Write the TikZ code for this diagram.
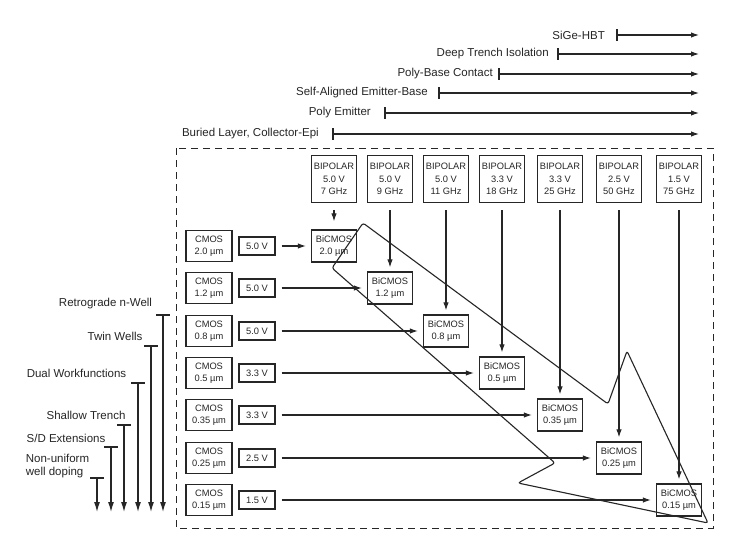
\documentclass[tikz,border=0pt]{standalone}
\usepackage{fontspec}
\setmainfont{Liberation Sans}
\usetikzlibrary{arrows.meta}
\definecolor{ink}{HTML}{262626}
\begin{document}
\begin{tikzpicture}[x=1pt,y=-1pt,
  lbl/.style={font=\fontsize{11.5}{12.5}\selectfont, inner sep=0pt, text=ink},
  box/.style={draw=ink, line width=1.3pt, font=\fontsize{9.3}{12.5}\selectfont, align=center, inner sep=1pt, text=ink},
  bip/.style={box, minimum width=45pt, minimum height=47pt},
  bic/.style={box, minimum width=45pt, minimum height=32pt},
  cmo/.style={box, minimum width=46pt, minimum height=31pt},
  vol/.style={box, minimum width=36pt, minimum height=18pt},
  arr/.style={draw=ink, line width=1.1pt, -{Latex[length=8pt,width=5.5pt]}},
  arrl/.style={draw=ink, line width=1.2pt, -{Latex[length=10pt,width=6pt]}},
  tick/.style={draw=ink, line width=1.2pt},
  zone/.style={draw=ink, line width=1pt, dash pattern=on 7pt off 5pt}
]
\useasboundingbox (0,0) rectangle (741,533);
\fill[white] (0,0) rectangle (741,533);

% top technology arrows
\foreach \name/\txt/\tk/\yy/\gap in {
  a/SiGe-HBT/617/35/12,
  b/Deep Trench Isolation/558/54/9,
  c/Poly-Base Contact/499/74/6,
  d/Self-Aligned Emitter-Base/439/93/11,
  e/Poly Emitter/385/113/14,
  f/{Buried Layer, Collector-Epi}/333/134/14}{
  \coordinate (s\name) at (\tk,\yy);
  \coordinate (e\name) at (699,\yy);
  \node[lbl, anchor=east] (t\name) at (\tk-\gap,\yy) {\txt};
  \draw[tick] ([yshift=6pt]s\name) -- ([yshift=-6pt]s\name);
  \draw[arr] (s\name) -- (e\name);
}

% dashed zone
\draw[zone] (176,148) rectangle (713,528);

% bipolar boxes
\foreach \i/\x/\v/\f in {1/334/5.0/7,2/390/5.0/9,3/446/5.0/11,4/502/3.3/18,5/560/3.3/25,6/619/2.5/50,7/679/1.5/75}{
  \node[bip] (bp\i) at (\x,179) {BIPOLAR\\\v\ V\\\f\ GHz};
}
% bicmos boxes
\foreach \i/\x/\y/\t in {1/334/246/2.0,2/390/288/1.2,3/446/331/0.8,4/502/373/0.5,5/560/415/0.35,6/619/458/0.25,7/679/500/0.15}{
  \node[bic] (bc\i) at (\x,\y) {BiCMOS\\\t\ µm};
}
% cmos and voltage boxes
\foreach \i/\y/\t/\v in {1/246/2.0/5.0,2/288/1.2/5.0,3/331/0.8/5.0,4/373/0.5/3.3,5/415/0.35/3.3,6/458/0.25/2.5,7/500/0.15/1.5}{
  \node[cmo] (cm\i) at (209,\y) {CMOS\\\t\ µm};
  \node[vol] (v\i) at (257,\y) {\v\ V};
}
% connectors
\foreach \i in {1,...,7}{
  \draw[arr, shorten <=6pt, shorten >=5pt] (v\i) -- (bc\i);
}
\draw[arr, shorten <=7pt, shorten >=8pt] (bp1) -- (bc1);
\foreach \i in {2,...,7}{
  \draw[arr, shorten <=7pt, shorten >=4pt] (bp\i) -- (bc\i);
}

% big trend arrow outline
\draw[ink, line width=1.1pt, rounded corners=2.5pt]
  (332,268) -- (363,223) -- (608,404) -- (627,351) -- (708,523) -- (518,483) -- (555,463) -- cycle;

% left process arrows
\foreach \name/\x/\y in {p/163/315, q/151/346, r/138/383, s/124/425, t/111/447, u/97/478}{
  \coordinate (h\name) at (\x,\y);
  \coordinate (g\name) at (\x,512);
  \draw[tick] ([xshift=-7pt]h\name) -- ([xshift=7pt]h\name);
  \draw[arrl] (h\name) -- (g\name);
}
\node[lbl] (lp) at (105.5,304) {Retrograde n-Well};
\node[lbl] (lq) at (115,336) {Twin Wells};
\node[lbl] (lr) at (76.5,373) {Dual Workfunctions};
\node[lbl] (ls) at (86,415) {Shallow Trench};
\node[lbl] (lt) at (66,438) {S/D Extensions};
\node[lbl, align=left] (lu) at (57.5,466) {Non-uniform\\well doping};
\end{tikzpicture}
\end{document}
